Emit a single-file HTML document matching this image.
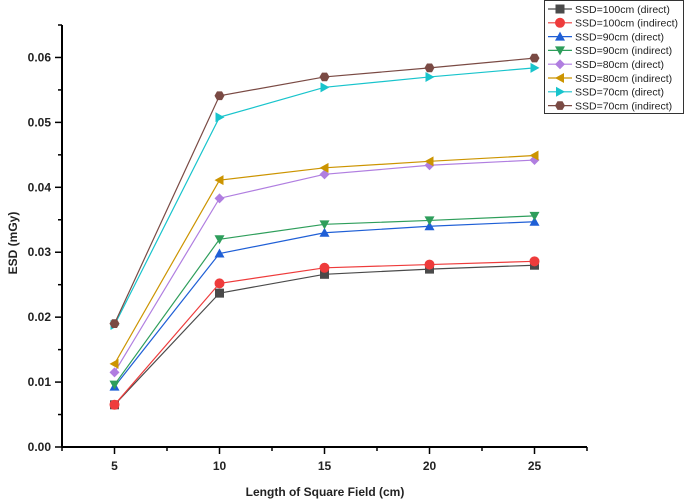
<!DOCTYPE html>
<html><head><meta charset="utf-8"><style>
html,body{margin:0;padding:0;background:#fff;}
svg{display:block;font-family:"Liberation Sans",Arial,sans-serif;}
</style></head><body>
<svg id="c" width="685" height="501" viewBox="0 0 685 501"></svg>
<script>
const xCats=[5,10,15,20,25];
const s100d=[0.0065,0.0237,0.0266,0.0274,0.0280];
const s100i=[0.0065,0.0252,0.0276,0.0281,0.0286];
const s90d=[0.0093,0.0298,0.0330,0.0340,0.0347];
const s90i=[0.0096,0.0320,0.0343,0.0349,0.0356];
const s80d=[0.0115,0.0383,0.0420,0.0434,0.0442];
const s80i=[0.0128,0.0411,0.0430,0.0440,0.0449];
const s70d=[0.0188,0.0508,0.0554,0.0570,0.0584];
const s70i=[0.0190,0.0541,0.0570,0.0584,0.0599];
const yTicks=[0,0.01,0.02,0.03,0.04,0.05,0.06];
const yTickLabels=["0.00","0.01","0.02","0.03","0.04","0.05","0.06"];
const xTicks=[5,10,15,20,25];
const seriesNames=["SSD=100cm (direct)","SSD=100cm (indirect)","SSD=90cm (direct)","SSD=90cm (indirect)","SSD=80cm (direct)","SSD=80cm (indirect)","SSD=70cm (direct)","SSD=70cm (indirect)"];
const seriesData=[s100d,s100i,s90d,s90i,s80d,s80i,s70d,s70i];
const colors=["#4a4a4a","#ee3b3b","#1f5fd6","#2e9e5b","#b07ee0","#cc9400","#18c4cc","#7a4a44"];
const markers=["square","circle","up","down","diamond","left","right","hex"];
const NS="http://www.w3.org/2000/svg";
const svg=document.getElementById('c');
const X0=62,X1=587,Y0=447,Y1=25,xmin=2.5,xmax=27.5,ymin=0,ymax=0.065;
const sx=v=>X0+(v-xmin)/(xmax-xmin)*(X1-X0);
const sy=v=>Y0-(v-ymin)/(ymax-ymin)*(Y0-Y1);
function el(t,a,p){const e=document.createElementNS(NS,t);for(const k in a)e.setAttribute(k,a[k]);(p||svg).appendChild(e);return e;}
function marker(g,type,x,y,c){
  let e;const r=5;
  if(type==="square")e=el('rect',{x:x-4.5,y:y-4.5,width:9,height:9,fill:c},g);
  else if(type==="circle")e=el('circle',{cx:x,cy:y,r:5,fill:c},g);
  else if(type==="up")e=el('polygon',{points:`${x},${y-r} ${x-r},${y+4} ${x+r},${y+4}`,fill:c},g);
  else if(type==="down")e=el('polygon',{points:`${x},${y+r} ${x-r},${y-4} ${x+r},${y-4}`,fill:c},g);
  else if(type==="diamond")e=el('polygon',{points:`${x},${y-r} ${x+r},${y} ${x},${y+r} ${x-r},${y}`,fill:c},g);
  else if(type==="left")e=el('polygon',{points:`${x-r},${y} ${x+4},${y-r} ${x+4},${y+r}`,fill:c},g);
  else if(type==="right")e=el('polygon',{points:`${x+r},${y} ${x-4},${y-r} ${x-4},${y+r}`,fill:c},g);
  else {let p=[];for(let i=0;i<6;i++){const a=Math.PI/3*i;p.push((x+r*Math.cos(a)).toFixed(1)+","+(y+r*Math.sin(a)).toFixed(1));}e=el('polygon',{points:p.join(' '),fill:c},g);}
  
  
}
const ax=el('g',{});


el('line',{x1:X0,y1:Y1,x2:X0,y2:Y0,stroke:'#000','stroke-width':2},ax);
el('line',{x1:X0,y1:Y0,x2:X1,y2:Y0,stroke:'#000','stroke-width':2},ax);
el('line',{x1:X0,y1:Y1,x2:X0-4,y2:Y1,stroke:'#000','stroke-width':1.5},ax);
el('line',{x1:X1,y1:Y0,x2:X1,y2:Y0+4,stroke:'#000','stroke-width':1.5},ax);
yTicks.forEach((v,i)=>{
  const y=sy(v);
  el('line',{x1:X0-7,y1:y,x2:X0,y2:y,stroke:'#000','stroke-width':1.5},ax);
  if(i<yTicks.length-1)el('line',{x1:X0-4,y1:sy(v+0.005),x2:X0,y2:sy(v+0.005),stroke:'#000','stroke-width':1.5},ax);
  const t=el('text',{x:X0-11,y:y+4,'text-anchor':'end','font-size':12,'font-weight':'bold',fill:'#222'},ax);
  t.textContent=yTickLabels[i];
  
  
});
xTicks.forEach(v=>{
  const x=sx(v);
  el('line',{x1:x,y1:Y0,x2:x,y2:Y0+7,stroke:'#000','stroke-width':1.5},ax);
  el('line',{x1:sx(v-2.5),y1:Y0,x2:sx(v-2.5),y2:Y0+4,stroke:'#000','stroke-width':1.5},ax);
  const t=el('text',{x:x,y:Y0+23,'text-anchor':'middle','font-size':12,'font-weight':'bold',fill:'#222'},ax);
  t.textContent=v;
  
  
});
const xt=el('text',{x:325,y:496,'text-anchor':'middle','font-size':12,'font-weight':'bold',fill:'#222'});
xt.textContent='Length of Square Field (cm)';


const yt=el('text',{x:0,y:0,'text-anchor':'middle','font-size':12,'font-weight':'bold',fill:'#222',transform:'translate(17,243) rotate(-90)'});
yt.textContent='ESD (mGy)';


seriesData.forEach((d,si)=>{
  const g=el('g',{});
  
  
  el('polyline',{points:d.map((v,i)=>sx(xCats[i])+","+sy(v)).join(' '),fill:'none',stroke:colors[si],'stroke-width':1.2},g);
  d.forEach((v,i)=>marker(g,markers[si],sx(xCats[i]),sy(v),colors[si]));
});
const lg=el('g',{});


el('rect',{x:544.5,y:0.5,width:139,height:113,fill:'#fff',stroke:'#333','stroke-width':1},lg);
seriesNames.forEach((n,i)=>{
  const y=9+i*13.8;
  const g=el('g',{},lg);
  
  
  el('line',{x1:548,y1:y,x2:572,y2:y,stroke:colors[i],'stroke-width':1.2},g);
  marker(g,markers[i],560,y,colors[i]);
  const t=el('text',{x:575,y:y+3.8,'font-size':10.5,fill:'#222'},g);
  t.textContent=n;
});
</script>
</body></html>
